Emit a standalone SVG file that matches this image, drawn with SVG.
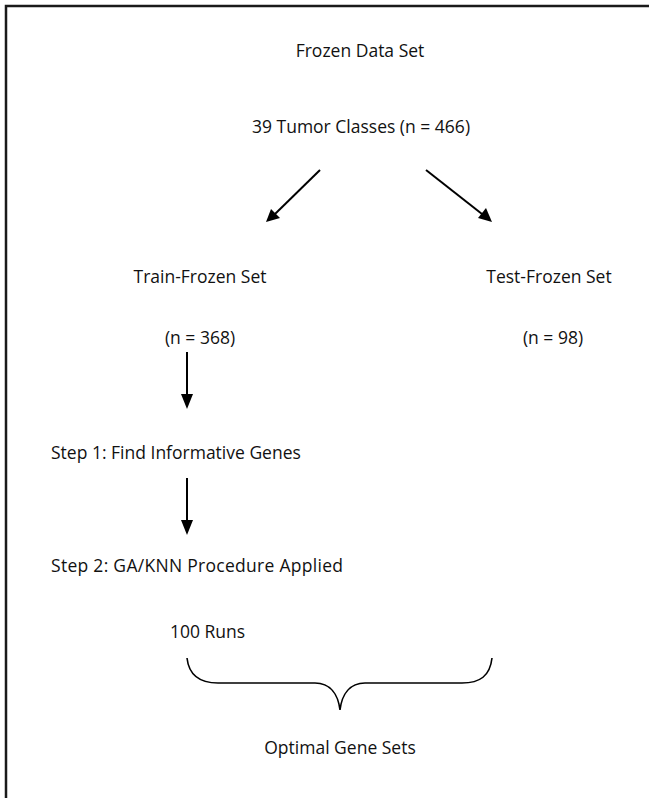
<svg xmlns="http://www.w3.org/2000/svg" width="649" height="798" viewBox="0 0 649 798">
<style>
text{font-family:"Open Sans","Liberation Sans",sans-serif;font-size:17.5px;fill:#111}
.m{text-anchor:middle}
.c{stroke:#000;stroke-width:2;fill:none}
.b{stroke:#000;stroke-width:1.6;fill:none}
</style>
<rect width="649" height="798" fill="#fff"/>
<path d="M6,798 V6 H649" stroke="#1a1a1a" stroke-width="2.5" fill="none"/>
<g id="n-frozen"><text class="m" x="360" y="57">Frozen Data Set</text></g>
<g id="n-classes"><text class="m" x="361" y="133">39 Tumor Classes (n = 466)</text></g>
<g id="n-train"><text class="m" x="200" y="283">Train-Frozen Set</text><text class="m" x="200" y="344">(n = 368)</text></g>
<g id="n-test"><text class="m" x="549" y="283">Test-Frozen Set</text><text class="m" x="553" y="344">(n = 98)</text></g>
<g id="n-step1"><text x="51" y="459">Step 1: Find Informative Genes</text></g>
<g id="n-step2"><text x="51" y="572" textLength="292" lengthAdjust="spacing">Step 2: GA/KNN Procedure Applied</text></g>
<g id="n-runs"><text x="170" y="638">100 Runs</text></g>
<g id="n-optimal"><text class="m" x="340" y="754">Optimal Gene Sets</text></g>
<g id="connectors">
<line class="c" x1="320" y1="170" x2="275" y2="214"/>
<path d="M266,222 L271,209 L280,218 Z" fill="#000"/>
<line class="c" x1="426" y1="170" x2="482" y2="214"/>
<path d="M492,222 L478,218 L486,208 Z" fill="#000"/>
<line class="c" x1="187" y1="352" x2="187" y2="396"/>
<path d="M181,394 L193,394 L187,409 Z" fill="#000"/>
<line class="c" x1="187" y1="478" x2="187" y2="522"/>
<path d="M181,520 L193,520 L187,535 Z" fill="#000"/>
<path class="b" d="M187,658 C189,676 200,683 218,683 H315 C330,683 338,694 340,710 C342,694 350,683 365,683 H462 C480,683 490,676 492,658"/>
</g>
</svg>
